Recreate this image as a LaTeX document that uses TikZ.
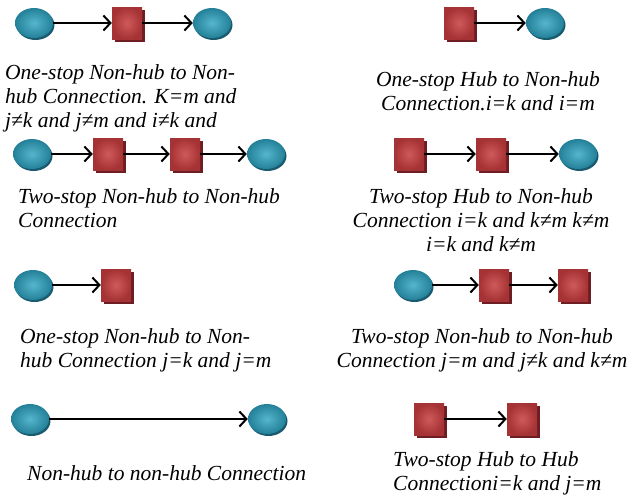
\documentclass[tikz,border=0pt]{standalone}
\usepackage{fontspec}
\setmainfont{Liberation Serif}
\usetikzlibrary{arrows.meta,shadows,shapes.geometric}
\definecolor{hubin}{RGB}{208,90,90}
\definecolor{hubout}{RGB}{165,50,52}
\definecolor{hubsh}{RGB}{110,30,35}
\definecolor{nhin}{RGB}{85,182,204}
\definecolor{nhout}{RGB}{35,128,152}
\definecolor{nhsh}{RGB}{25,90,110}
\tikzset{
  hubnode/.style={rectangle, minimum width=30pt, minimum height=32pt, inner sep=0pt,
    inner color=hubin, outer color=hubout,
    drop shadow={shadow xshift=3pt, shadow yshift=-3pt, opacity=1, fill=hubsh}},
  nhnode/.style={ellipse, minimum width=38pt, minimum height=30pt, inner sep=0pt,
    inner color=nhin, outer color=nhout,
    drop shadow={shadow xshift=1.5pt, shadow yshift=-2pt, opacity=1, fill=nhsh}},
  link/.style={draw=black, line width=2pt,
    -{Straight Barb[length=7pt,width=15pt,line width=2pt]}},
  caption/.style={inner sep=0pt, font=\itshape\fontsize{21.5}{24}\selectfont},
}
\begin{document}
\begin{tikzpicture}[x=1pt,y=-1pt]
\useasboundingbox (0,0) rectangle (636,499);
% Row 1 left
\node[nhnode]  (a1) at (34,23) {};
\node[hubnode] (a2) at (127,23) {};
\node[nhnode]  (a3) at (212,23) {};
\draw[link] (a1) -- (a2);
\draw[link] (a2) -- (a3);
\node[caption, anchor=north west, align=left] (ta) at (5,64.5)
  {One-stop Non-hub to Non-\\hub Connection. K=m and\\j≠k and j≠m and i≠k and};
% Row 1 right
\node[hubnode] (b1) at (459,23) {};
\node[nhnode]  (b2) at (545,23) {};
\draw[link] (b1) -- (b2);
\node[caption, anchor=north, align=center] (tb) at (488,71)
  {One-stop Hub to Non-hub\\Connection.i=k and i=m};
% Row 2 left
\node[nhnode]  (c1) at (32,154) {};
\node[hubnode] (c2) at (108,154) {};
\node[hubnode] (c3) at (185,154) {};
\node[nhnode]  (c4) at (266,154) {};
\draw[link] (c1) -- (c2);
\draw[link] (c2) -- (c3);
\draw[link] (c3) -- (c4);
\node[caption, anchor=north west, align=left] (tc) at (18,188)
  {Two-stop Non-hub to Non-hub\\Connection};
% Row 2 right
\node[hubnode] (d1) at (409,154) {};
\node[hubnode] (d2) at (491,154) {};
\node[nhnode]  (d3) at (578,154) {};
\draw[link] (d1) -- (d2);
\draw[link] (d2) -- (d3);
\node[caption, anchor=north, align=center] (td) at (481,188)
  {Two-stop Hub to Non-hub\\Connection i=k and k≠m k≠m\\i=k and k≠m};
% Row 3 left
\node[nhnode]  (e1) at (33,285) {};
\node[hubnode] (e2) at (116,285) {};
\draw[link] (e1) -- (e2);
\node[caption, anchor=north west, align=left] (te) at (20,328)
  {One-stop Non-hub to Non-\\hub Connection j=k and j=m};
% Row 3 right
\node[nhnode]  (f1) at (413,285) {};
\node[hubnode] (f2) at (494,285) {};
\node[hubnode] (f3) at (573,285) {};
\draw[link] (f1) -- (f2);
\draw[link] (f2) -- (f3);
\node[caption, anchor=north, align=center] (tf) at (482,328)
  {Two-stop Non-hub to Non-hub\\Connection j=m and j≠k and k≠m};
% Row 4 left
\node[nhnode]  (g1) at (30,419) {};
\node[nhnode]  (g2) at (267,419) {};
\draw[link] (g1) -- (g2);
\node[caption, anchor=north west, align=left] (tg) at (27,465)
  {Non-hub to non-hub Connection};
% Row 4 right
\node[hubnode] (h1) at (429,419) {};
\node[hubnode] (h2) at (522,419) {};
\draw[link] (h1) -- (h2);
\node[caption, anchor=north west, align=left] (th) at (393,451)
  {Two-stop Hub to Hub\\Connectioni=k and j=m};
\end{tikzpicture}
\end{document}
